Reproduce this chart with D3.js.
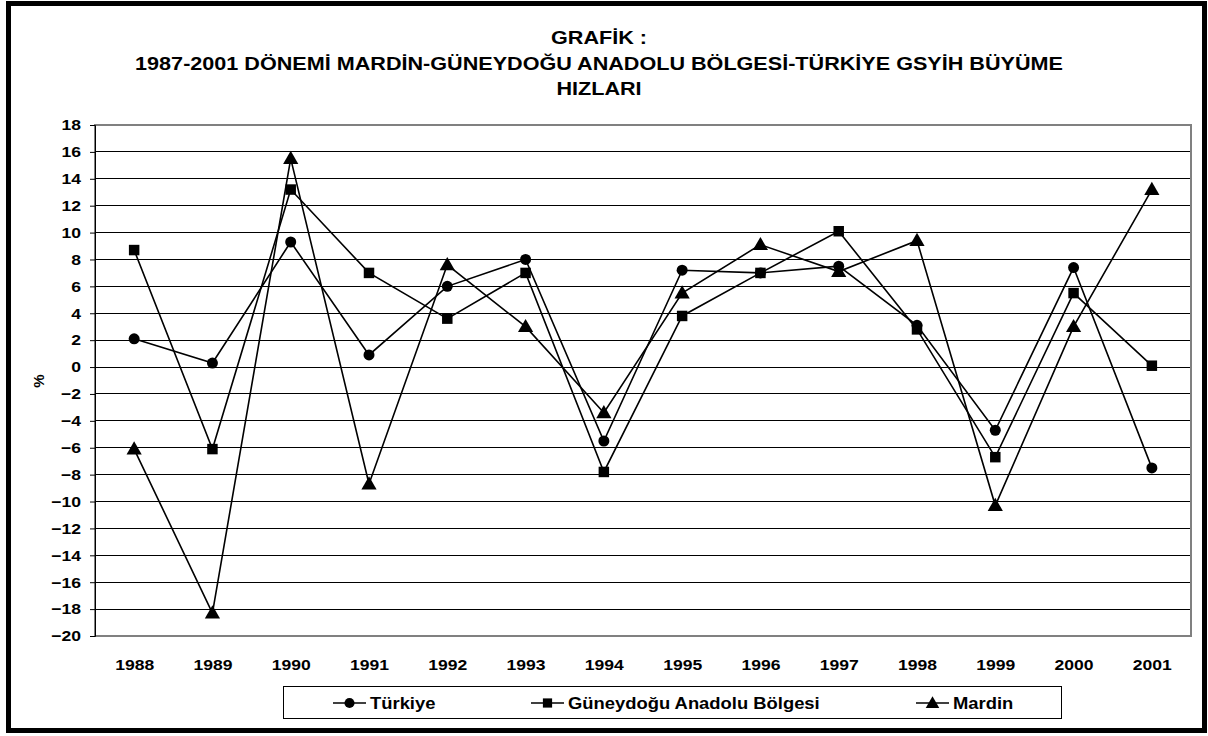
<!DOCTYPE html>
<html><head><meta charset="utf-8">
<script src="https://cdn.jsdelivr.net/npm/d3@7"></script>
<style>
body{margin:0;background:#fff;}
svg text{font-family:Arial,"Liberation Sans",sans-serif;font-weight:bold;fill:#000;}
</style></head>
<body><svg id="c" width="1208" height="736"></svg>
<script>
const years = ["1988","1989","1990","1991","1992","1993","1994","1995","1996","1997","1998","1999","2000","2001"];
const turkiye = [2.1,0.3,9.3,0.9,6.0,8.0,-5.5,7.2,7.0,7.5,3.1,-4.7,7.4,-7.5];
const guneydogu = [8.7,-6.1,13.2,7.0,3.6,7.0,-7.8,3.8,7.0,10.1,2.8,-6.7,5.5,0.1];
const mardin = [-6.1,-18.3,15.5,-8.7,7.6,3.0,-3.4,5.5,9.1,7.1,9.4,-10.3,3.0,13.2];
const yTicks = d3.range(-20,19,2);
const titleLines = ["GRAFİK :","1987-2001 DÖNEMİ MARDİN-GÜNEYDOĞU ANADOLU BÖLGESİ-TÜRKİYE GSYİH BÜYÜME","HIZLARI"];
const seriesNames = ["Türkiye","Güneydoğu Anadolu Bölgesi","Mardin"];
const symbols = [d3.symbolCircle,d3.symbolSquare,d3.symbolTriangle];
const seriesData = [turkiye,guneydogu,mardin];

const SX = 1.17; // horizontal stretch of the reference's text
const svg = d3.select("#c");
svg.append("rect").attr("x",8.5).attr("y",3.5).attr("width",1196).attr("height",727)
  .attr("fill","#fff").attr("stroke","#000").attr("stroke-width",5);

const L=95,R=1191,T=125,B=636;
const x = d3.scalePoint().domain(years).range([L,R]).padding(0.5);
const y = d3.scaleLinear().domain([-20,18]).range([B,T]);

// title
svg.append("g").selectAll("text").data(titleLines).join("text")
  .attr("transform",(d,i)=>`translate(599,${44+i*25.5}) scale(1.2,1)`).attr("text-anchor","middle")
  .style("font-size","18px").text(d=>d);

// gridlines
svg.append("g").selectAll("line").data(yTicks.filter(v=>v>-20&&v<18)).join("line")
  .attr("x1",L).attr("x2",R).attr("y1",d=>y(d)).attr("y2",d=>y(d))
  .attr("stroke","#000").attr("stroke-width",1).attr("shape-rendering","crispEdges");
svg.append("rect").attr("x",L).attr("y",T).attr("width",R-L).attr("height",B-T)
  .attr("fill","none").attr("stroke","#808080").attr("stroke-width",1.5).attr("shape-rendering","crispEdges");

// y axis
const ya = svg.append("g").attr("transform",`translate(${L},0)`)
  .call(d3.axisLeft(y).tickValues(yTicks).tickSize(5).tickPadding(9).tickFormat(d3.format("d")));
ya.select(".domain").attr("stroke","#000");
ya.selectAll("line").attr("stroke","#000");
ya.selectAll("text").style("font-size","15px").attr("font-family",null)
  .attr("x",-14/SX).attr("transform",`scale(${SX},1)`);

// x axis labels
const xa = svg.append("g").attr("transform",`translate(0,${B})`)
  .call(d3.axisBottom(x).tickSize(0).tickPadding(23));
xa.select(".domain").remove();
xa.selectAll("text").style("font-size","15px").attr("font-family",null)
  .attr("transform",`scale(${SX},1)`);

// y title
svg.append("text").attr("transform","translate(44,381) rotate(-90)").attr("text-anchor","middle")
  .style("font-size","15px").text("%");

// series
const line = d3.line().x((d,i)=>x(years[i])).y(d=>y(d));
seriesData.forEach((s,k)=>{
  svg.append("path").datum(s).attr("d",line).attr("fill","none").attr("stroke","#000").attr("stroke-width",1.6);
});
seriesData.forEach((s,k)=>{
  const sz = k===0?95:(k===1?110:100);
  svg.append("g").selectAll("path").data(s).join("path")
    .attr("transform",(d,i)=>`translate(${x(years[i])},${y(d)+(k===2?1:0)})`)
    .attr("d",d3.symbol().type(symbols[k]).size(sz)).attr("fill","#000");
});

// legend
svg.append("rect").attr("x",283.5).attr("y",686.5).attr("width",778).attr("height",32)
  .attr("fill","#fff").attr("stroke","#000").attr("stroke-width",1);
const legX = [333,531,916];
const lg = svg.append("g").selectAll("g").data(seriesNames).join("g")
  .attr("transform",(d,i)=>`translate(${legX[i]},703)`);
lg.append("line").attr("x1",0).attr("x2",33).attr("stroke","#000").attr("stroke-width",1.6);
lg.append("path").attr("transform",(d,i)=>`translate(16.5,${i===2?1:0})`)
  .attr("d",(d,i)=>d3.symbol().type(symbols[i]).size(i===0?80:(i===1?85:80))()).attr("fill","#000");
lg.append("text").attr("transform","translate(37,0) scale(1.15,1)").attr("dy","0.36em")
  .style("font-size","16px").text(d=>d);
</script></body></html>
